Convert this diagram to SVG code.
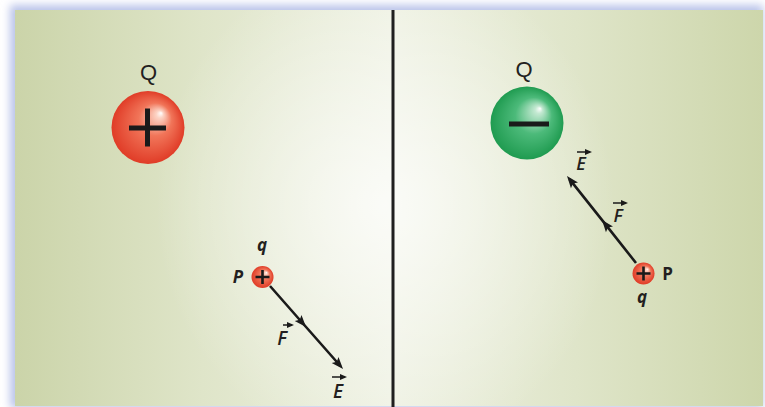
<svg xmlns="http://www.w3.org/2000/svg" width="765" height="407" viewBox="0 0 765 407">
<defs>
<style>
.lbl{font-family:"Liberation Sans",Arial,sans-serif;fill:#231f20}
.vec{font-family:"Open Sans","Liberation Sans",sans-serif;font-style:italic;font-weight:600;fill:#231f20}
.pq{font-family:"Open Sans","Liberation Sans",sans-serif;font-weight:700;fill:#231f20}
.arrow{fill:none;stroke:#1a1a1a;stroke-width:2.6}
.varr{fill:none;stroke:#1a1a1a;stroke-width:1.5}
.sign{stroke:#1a1a1a;fill:none}
</style>
<filter id="blur" x="-5%" y="-5%" width="110%" height="110%"><feGaussianBlur stdDeviation="4"/></filter>
<linearGradient id="bgH" x1="15" y1="0" x2="763" y2="0" gradientUnits="userSpaceOnUse">
<stop offset="0" stop-color="#cbd4a9"/>
<stop offset="0.25" stop-color="#dfe5c9"/>
<stop offset="0.5" stop-color="#eef1e2"/>
<stop offset="0.75" stop-color="#dfe5c9"/>
<stop offset="1" stop-color="#cdd6ab"/>
</linearGradient>
<radialGradient id="bgR" cx="385" cy="205" r="230" gradientUnits="userSpaceOnUse" gradientTransform="translate(385 205) scale(1 1.1) translate(-385 -205)">
<stop offset="0" stop-color="#ffffff" stop-opacity="0.75"/>
<stop offset="1" stop-color="#ffffff" stop-opacity="0"/>
</radialGradient>
<radialGradient id="red" cx="0.5" cy="0.5" r="0.5" fx="0.68" fy="0.3">
<stop offset="0" stop-color="#ffffff"/>
<stop offset="0.1" stop-color="#fcd3c4"/>
<stop offset="0.45" stop-color="#f17559"/>
<stop offset="1" stop-color="#e03c27"/>
</radialGradient>
<radialGradient id="green" cx="0.5" cy="0.5" r="0.5" fx="0.68" fy="0.3">
<stop offset="0" stop-color="#ffffff"/>
<stop offset="0.1" stop-color="#c4e9d2"/>
<stop offset="0.5" stop-color="#4cba7a"/>
<stop offset="1" stop-color="#1f9b50"/>
</radialGradient>
<marker id="head" markerUnits="userSpaceOnUse" markerWidth="13" markerHeight="10" refX="8" refY="5" orient="auto" overflow="visible">
<path d="M0,0.5 L12,5 L0,9.5 L2.5,5 z" fill="#1a1a1a"/>
</marker>
<marker id="vhead" markerUnits="userSpaceOnUse" markerWidth="7" markerHeight="6" refX="5" refY="3" orient="auto" overflow="visible">
<path d="M0,0 L7,3 L0,6 z" fill="#1a1a1a"/>
</marker>
</defs>

<rect x="0" y="0" width="765" height="407" fill="#ffffff"/>
<rect x="10" y="5" width="753" height="403" fill="#b9c3e9" filter="url(#blur)"/>
<rect x="15" y="10" width="748" height="396" fill="url(#bgH)"/>
<rect x="15" y="10" width="748" height="396" fill="url(#bgR)"/>
<line x1="393" y1="10" x2="393" y2="407" stroke="#1f1f1f" stroke-width="3"/>

<g id="connectors">
<path class="arrow" d="M270,286 L303.4,324 L340.4,366" marker-mid="url(#head)" marker-end="url(#head)"/>
<path class="arrow" d="M636,263 L604.5,223.1 L569.5,179.1" marker-mid="url(#head)" marker-end="url(#head)"/>
</g>

<g id="Q-positive">
<text class="lbl" x="148.5" y="79.5" font-size="22" text-anchor="middle">Q</text>
<circle cx="148" cy="127.5" r="36.5" fill="url(#red)"/>
<path class="sign" stroke-width="5" d="M129,128 H166 M147.5,108.5 V146.5"/>
</g>

<g id="Q-negative">
<text class="lbl" x="524" y="76.5" font-size="22" text-anchor="middle">Q</text>
<circle cx="527" cy="123" r="36.5" fill="url(#green)"/>
<path class="sign" stroke-width="5" d="M509,124 H549"/>
</g>

<g id="q-left">
<circle cx="262.5" cy="277" r="11" fill="url(#red)"/>
<path class="sign" stroke-width="2.6" d="M255.5,277 H269.5 M262.5,270 V284"/>
<text class="pq" x="262" y="251" font-size="17" font-style="italic" text-anchor="middle">q</text>
<text class="pq" x="238" y="283" font-size="17" font-style="italic" text-anchor="middle">P</text>
</g>

<g id="q-right">
<circle cx="643.5" cy="273.5" r="11" fill="url(#red)"/>
<path class="sign" stroke-width="2.6" d="M636.5,273.5 H650.5 M643.5,266.5 V280.5"/>
<text class="pq" x="642" y="302.5" font-size="17" font-style="italic" text-anchor="middle">q</text>
<text class="pq" x="667.5" y="280" font-size="17" text-anchor="middle">P</text>
</g>

<g id="labels-left">
<text class="vec" x="282" y="345" font-size="19" text-anchor="middle">F</text>
<line class="varr" x1="283" y1="325" x2="292" y2="325" marker-end="url(#vhead)"/>
<text class="vec" x="338" y="398" font-size="19" text-anchor="middle">E</text>
<line class="varr" x1="332" y1="377" x2="345" y2="377" marker-end="url(#vhead)"/>
</g>

<g id="labels-right">
<text class="vec" x="581" y="170" font-size="18" text-anchor="middle">E</text>
<line class="varr" x1="577" y1="152" x2="590" y2="152" marker-end="url(#vhead)"/>
<text class="vec" x="618" y="222" font-size="18" text-anchor="middle">F</text>
<line class="varr" x1="613" y1="203" x2="626" y2="203" marker-end="url(#vhead)"/>
</g>
</svg>
